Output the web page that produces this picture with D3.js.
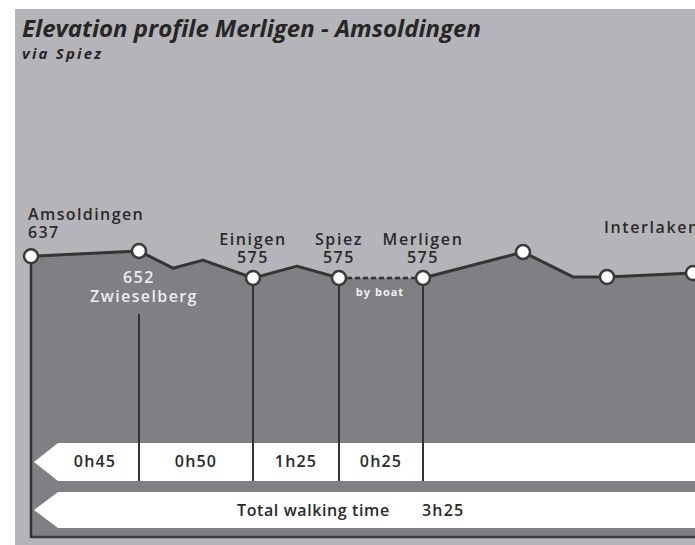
<!DOCTYPE html>
<html>
<head>
<meta charset="utf-8">
<script src="https://cdn.jsdelivr.net/npm/d3@7"></script>
<style>
  body { margin: 0; background: #fff; }
  svg { display: block; font-family: "Open Sans", sans-serif; }
</style>
</head>
<body>
<svg width="695" height="545"></svg>
<script>
// profile: distance (km) and elevation (m)
const profileKm   = [0, 2.7, 3.55, 4.3, 5.55, 6.65, 7.7, 9.8, 12.3, 13.55, 14.4, 16.55, 18]
const profileElev = [637, 652, 603, 626, 575, 609, 575, 575, 649, 578, 578, 589, 590]
const stopIdx     = [0, 1, 4, 6, 7, 8, 10, 11]

// labelled places
const placeNames = ["Amsoldingen", "Zwieselberg", "Einigen", "Spiez", "Merligen"]
const placeIdx   = [0, 1, 4, 6, 7]
const placeElev  = [637, 652, 575, 575, 575]

// walking times between places
const legTimes  = ["0h45", "0h50", "1h25", "0h25"]
const totalTime = "3h25"
const boatLeg   = 6   // segment 6 -> 7 by boat

const svg = d3.select("svg"),
      width = +svg.attr("width"),
      height = +svg.attr("height"),
      bottom = 537,
      barTop = 443, barBot = 481,
      totTop = 492, totBot = 528,
      ink = "#2a2a2a"

const x = d3.scaleLinear().domain([0, 16.55]).range([31, 693]),
      y = d3.scaleLinear().domain([575, 652]).range([278, 251])

const pts = profileKm.map((d, i) => ({km: d, m: profileElev[i], i: i}))

function label(tx, ty, s, anchor, fill, size, spacing) {
  return svg.append("text").attr("x", tx).attr("y", ty).text(s)
    .style("text-anchor", anchor || "start")
    .style("fill", fill || ink)
    .style("font-size", (size || 16) + "px")
    .style("font-weight", 600)
    .style("letter-spacing", (spacing == null ? 2 : spacing) + "px")
}

// light panel
svg.append("rect").attr("x", 15).attr("y", 9).attr("width", width - 15).attr("height", height - 9)
  .style("fill", "#b5b5b9")

// title
label(22, 37, "Elevation profile Merligen - Amsoldingen", "start", "#262626", 24, 0)
  .style("font-weight", "bold").style("font-style", "italic")
label(22, 59, "via Spiez", "start", "#262626", 15, 2.2)
  .style("font-weight", "bold").style("font-style", "italic")

// dark area under profile
const area = d3.area().x(d => x(d.km)).y0(bottom).y1(d => y(d.m))
svg.append("path").datum(pts).attr("d", area).style("fill", "#7f7f84")

// frame bottom
svg.append("line").attr("x1", x(0)).attr("x2", width).attr("y1", bottom).attr("y2", bottom)
  .style("stroke", "#3a3a3a").style("stroke-width", 2.5)

// vertical markers
svg.append("line").attr("x1", x(0)).attr("x2", x(0)).attr("y1", y(profileElev[0])).attr("y2", bottom + 1)
  .style("stroke", "#333").style("stroke-width", 2.5)
placeIdx.slice(1).forEach(function(p, k) {
  svg.append("line")
    .attr("x1", x(profileKm[p])).attr("x2", x(profileKm[p]))
    .attr("y1", k == 0 ? 314 : y(profileElev[p]))
    .attr("y2", barBot)
    .style("stroke", "#333").style("stroke-width", 2)
})

// profile line
const line = d3.line().x(d => x(d.km)).y(d => y(d.m))
;[pts.slice(0, boatLeg + 1), pts.slice(boatLeg + 1)].forEach(function(seg) {
  svg.append("path").datum(seg).attr("d", line)
    .style("fill", "none").style("stroke", "#353535").style("stroke-width", 3)
    .style("stroke-linejoin", "round")
})
svg.append("path").datum(pts.slice(boatLeg, boatLeg + 2)).attr("d", line)
  .style("fill", "none").style("stroke", "#353535").style("stroke-width", 2.5)
  .style("stroke-dasharray", "5,3")
label((x(profileKm[6]) + x(profileKm[7])) / 2 - 1, 296, "by boat", "middle", "#f0f0f0", 11, 1)
  .style("font-weight", "bold")

// stop circles
svg.selectAll(".stop").data(stopIdx).enter().append("circle")
  .attr("cx", i => x(profileKm[i])).attr("cy", i => y(profileElev[i])).attr("r", 7)
  .style("fill", "#fff").style("stroke", "#3a3a3a").style("stroke-width", 2.5)

// place labels
placeIdx.forEach(function(p, k) {
  const px = x(profileKm[p])
  if (k == 0) {
    label(px - 3, 220, placeNames[k], "start", ink, 16, 1.4)
    label(px - 3, 238, placeElev[k], "start", ink, 16, 1.4)
  } else if (k == 1) {
    label(px, 283, placeElev[k], "middle", "#ececec", 16, 1.6)
    label(px + 5, 302, placeNames[k], "middle", "#ececec", 16, 1.4)
  } else {
    label(px, 245, placeNames[k], "middle", ink, 16, 1.6)
    label(px, 263, placeElev[k], "middle", ink, 16, 1.6)
  }
})
label(x(profileKm[10]) - 3, 233, "Interlaken", "start", ink, 16, 1.6)

// arrow bands
function band(t, b) {
  const tip = x(0) + 3, m = (t + b) / 2
  return "M" + tip + "," + m + "L" + (tip + 24) + "," + t + "L" + width + "," + t +
         "L" + width + "," + b + "L" + (tip + 24) + "," + b + "Z"
}
svg.append("path").attr("d", band(barTop, barBot)).style("fill", "#fff")
svg.append("path").attr("d", band(totTop, totBot)).style("fill", "#fff")

// leg dividers and times
const edges = placeIdx.map(p => x(profileKm[p]))
edges.slice(1).forEach(function(ex) {
  svg.append("line").attr("x1", ex).attr("x2", ex).attr("y1", barTop).attr("y2", barBot)
    .style("stroke", "#333").style("stroke-width", 2)
})
legTimes.forEach(function(t, k) {
  const left = k == 0 ? edges[0] + 20 : edges[k]
  label((left + edges[k + 1]) / 2, 467, t, "middle", ink, 16, 1.2)
})

label(237, 516, "Total walking time", "start", ink, 16, 0.6)
label(422, 516, totalTime, "start", ink, 16, 1.2)
</script>
</body>
</html>
